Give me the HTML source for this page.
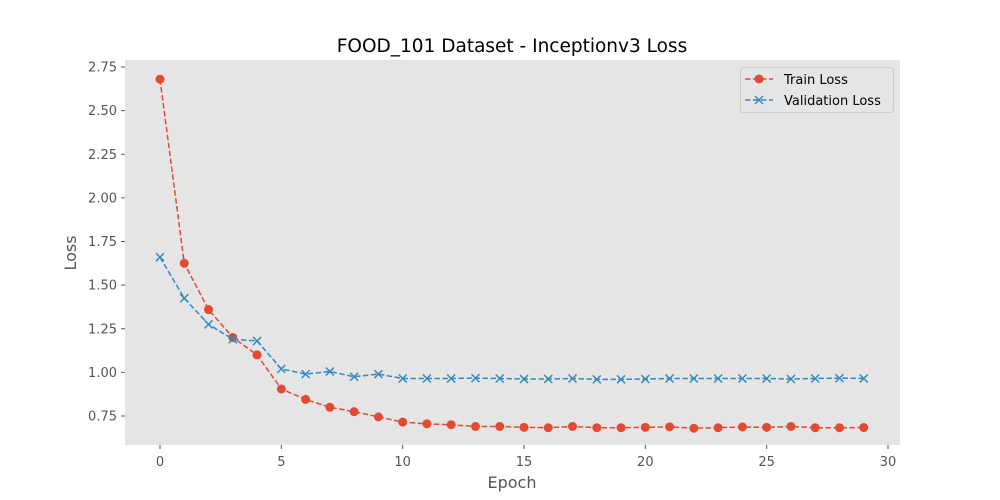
<!DOCTYPE html>
<html><head><meta charset="utf-8"><style>
body{margin:0;background:#fff;}
svg{display:block;font-family:"DejaVu Sans","Liberation Sans",sans-serif;}
</style></head><body>
<svg id="chart" width="1000" height="500">
<rect x="125" y="60" width="775" height="385" fill="#E5E5E5"/>
<g id="ticks"></g><g id="series"></g>
<text x="512" y="52" text-anchor="middle" font-size="18.5" fill="#000">FOOD_101 Dataset - Inceptionv3 Loss</text>
<text x="512" y="488" text-anchor="middle" font-size="16" fill="#555">Epoch</text>
<text x="76" y="253" text-anchor="middle" font-size="16" fill="#555" transform="rotate(-90 76 253)">Loss</text>
<g>
<rect x="740.5" y="67.5" width="153" height="45" rx="3" fill="#E5E5E5" stroke="#ccc"/>
<g>
<line x1="745" y1="79" x2="773" y2="79" stroke="#E24A33" stroke-width="1.5" stroke-dasharray="5.5,2.5"/>
<circle cx="759" cy="79" r="4.5" fill="#E24A33"/>
<text x="784" y="84" font-size="13" fill="#000">Train Loss</text></g>
<g>
<line x1="745" y1="100" x2="773" y2="100" stroke="#348ABD" stroke-width="1.5" stroke-dasharray="5.5,2.5"/>
<path d="M755,96 l8,8 M763,96 l-8,8" stroke="#348ABD" stroke-width="1.5"/>
<text x="784" y="105" font-size="13" fill="#000">Validation Loss</text></g>
</g>
</svg>
<script>
const epochs=[0,1,2,3,4,5,6,7,8,9,10,11,12,13,14,15,16,17,18,19,20,21,22,23,24,25,26,27,28,29];
const trainLoss=[2.68,1.625,1.36,1.20,1.10,0.905,0.845,0.80,0.775,0.745,0.715,0.705,0.70,0.69,0.69,0.685,0.683,0.69,0.683,0.683,0.685,0.688,0.68,0.683,0.687,0.685,0.69,0.683,0.683,0.684];
const valLoss=[1.66,1.425,1.275,1.19,1.18,1.02,0.99,1.005,0.975,0.99,0.965,0.965,0.965,0.967,0.965,0.962,0.962,0.965,0.96,0.96,0.962,0.965,0.965,0.965,0.965,0.965,0.962,0.965,0.967,0.965];
const xTicks=[0,5,10,15,20,25,30];
const yTicks=[0.75,1.00,1.25,1.50,1.75,2.00,2.25,2.50,2.75];
const NS="http://www.w3.org/2000/svg";
const X=v=>160+(v)*(728/30);
const Y=v=>416-(v-0.75)*(349/2);
function mk(tag,attrs,parent){const e=document.createElementNS(NS,tag);for(const k in attrs)e.setAttribute(k,attrs[k]);parent.appendChild(e);return e;}
const ticks=document.getElementById('ticks'),series=document.getElementById('series');
xTicks.forEach(t=>{
 mk('line',{x1:X(t),x2:X(t),y1:445,y2:449,stroke:'#555'},ticks);
 const tx=mk('text',{x:X(t),y:466,'text-anchor':'middle','font-size':13,fill:'#555'},ticks);
 tx.textContent=t;
 
 
});
yTicks.forEach(t=>{
 mk('line',{x1:121,x2:125,y1:Y(t),y2:Y(t),stroke:'#555'},ticks);
 const tx=mk('text',{x:117,y:Y(t)+4.5,'text-anchor':'end','font-size':13,fill:'#555'},ticks);
 tx.textContent=t.toFixed(2);
 
 
});
function draw(vals,color,name,marker){
 const pl=mk('polyline',{points:epochs.map((e,i)=>X(e)+','+Y(vals[i])).join(' '),fill:'none',stroke:color,'stroke-width':1.5,'stroke-dasharray':'5.5,2.5'},series);
 
 
 epochs.forEach((e,i)=>{
  let m;
  if(marker==='o'){m=mk('circle',{cx:X(e),cy:Y(vals[i]),r:4.5,fill:color},series);}
  else{const x=X(e),y=Y(vals[i]);m=mk('path',{d:`M${x-4},${y-4} l8,8 M${x+4},${y-4} l-8,8`,stroke:color,'stroke-width':1.5},series);}
  
  
 });
}
draw(trainLoss,'#E24A33','train-loss','o');
draw(valLoss,'#348ABD','validation-loss','x');
</script>
</body></html>
